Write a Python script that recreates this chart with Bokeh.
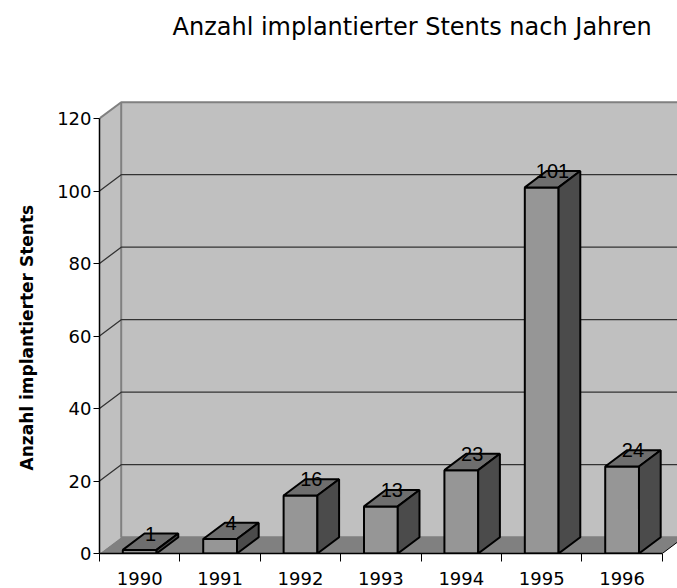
from bokeh.plotting import figure
from bokeh.models import Range1d, FixedTicker, ColumnDataSource, Title
from bokeh.core.properties import value
from bokeh.embed import file_html
from bokeh.resources import INLINE

# ---- data ----
years = ["1990", "1991", "1992", "1993", "1994", "1995", "1996"]
counts = [1, 4, 16, 13, 23, 101, 24]
y_ticks = [0, 20, 40, 60, 80, 100, 120]
title_text = "Anzahl implantierter Stents nach Jahren"
y_label = "Anzahl implantierter Stents"

# ---- layout / style constants ----
FONT = "DejaVu Sans"
LFONT = "Liberation Sans"
n = len(years)
YMAX = y_ticks[-1]
DX = 0.27   # depth offset (category units)
DY = 4.5    # depth offset (value units)
BW = 0.42   # bar width (category units)

W, H = 677, 588
ML, MT, MB = 99, 45, 35
PX_CAT = 80.4
PX_VAL = 3.625
x_end = (W - ML) / PX_CAT
y_end = (H - MT - MB) / PX_VAL

p = figure(width=W, height=H, output_backend="svg", toolbar_location=None,
           x_range=Range1d(0, x_end), y_range=Range1d(0, y_end),
           min_border_left=ML, min_border_right=0, min_border_top=MT,
           min_border_bottom=MB)
p.outline_line_color = None
p.grid.visible = False
p.background_fill_color = "white"

# ---- walls ----
p.patch([0, 0, DX, DX], [0, YMAX, YMAX + DY, DY], fill_color="#C0C0C0",
        line_color=None)
p.quad(left=[DX], right=[n + DX], bottom=[DY], top=[YMAX + DY],
       fill_color="#C0C0C0", line_color="#808080", line_width=2)
p.line([0, DX], [YMAX, YMAX + DY], line_color="#808080", line_width=2)

# gridlines (back wall + left wall diagonals)
gx, gy = [], []
for v in y_ticks[1:-1]:
    gx.append([0, DX, n + DX])
    gy.append([v, v + DY, v + DY])
p.multi_line(gx, gy, line_color="#333333", line_width=1.3)

# floor
p.patch([0, n, n + DX, DX], [0, 0, DY, DY], fill_color="#808080",
        line_color=None)
p.line([n, n + DX], [0, DY], line_color="black", line_width=1)

# ---- bars ----
fx, fy, tx, ty, sx, sy = [], [], [], [], [], []
for i, v in enumerate(counts):
    xl = i + 0.5 - BW / 2
    xr = i + 0.5 + BW / 2
    fx.append([xl, xr, xr, xl]); fy.append([0, 0, v, v])
    tx.append([xl, xr, xr + DX, xl + DX]); ty.append([v, v, v + DY, v + DY])
    sx.append([xr, xr + DX, xr + DX, xr]); sy.append([0, DY, v + DY, v])

p.patches(fx, fy, fill_color="#969696", line_color="black", line_width=2)
p.patches(tx, ty, fill_color="#6E6E6E", line_color="black", line_width=2)
p.patches(sx, sy, fill_color="#4B4B4B", line_color="black", line_width=2)

lab = ColumnDataSource(dict(
    x=[i + 0.5 + DX / 2 for i in range(n)],
    y=[v + DY for v in counts],
    t=[str(v) for v in counts]))
p.text(x="x", y="y", text="t", source=lab, text_align="center",
       text_baseline="middle", text_font=value(LFONT),
       text_font_size="20px", text_color="black")

# ---- axes ----
xa = p.xaxis[0]
xa.ticker = FixedTicker(ticks=[i + 0.5 for i in range(n)],
                        minor_ticks=list(range(n + 1)))
xa.major_label_overrides = {i + 0.5: years[i] for i in range(n)}
xa.bounds = (0, n)
xa.major_tick_in = 0
xa.major_tick_out = 0
xa.minor_tick_in = 0
xa.minor_tick_out = 8
xa.minor_tick_line_color = "black"
xa.axis_line_color = "black"
xa.axis_line_width = 1.5
xa.major_label_standoff = 10
xa.major_label_text_font = FONT
xa.major_label_text_font_size = "18px"
xa.major_label_text_color = "black"

ya = p.yaxis[0]
ya.ticker = FixedTicker(ticks=y_ticks, minor_ticks=[])
ya.bounds = (0, YMAX)
ya.major_tick_in = 0
ya.major_tick_out = 6
ya.major_tick_line_color = "black"
ya.axis_line_color = "black"
ya.axis_line_width = 1.5
ya.major_label_standoff = 2
ya.major_label_text_font = FONT
ya.major_label_text_font_size = "18px"
ya.major_label_text_color = "black"

# y-axis title as a left-side title (text starts 83 px above the frame bottom)
YLABEL_LIFT = 83
p.add_layout(Title(text=y_label, align="left", offset=YLABEL_LIFT,
                   vertical_align="top",
                   text_font=FONT, text_font_size="17px",
                   text_font_style="bold", text_color="black",
                   standoff=32), "left")

# ---- title ----
p.title.text = title_text
p.title.text_font = FONT
p.title.text_font_size = "24px"
p.title.text_font_style = "normal"
p.title.text_color = "black"
p.title.align = "left"
p.title.offset = 73

open("out.html", "w").write(file_html(p, INLINE))
